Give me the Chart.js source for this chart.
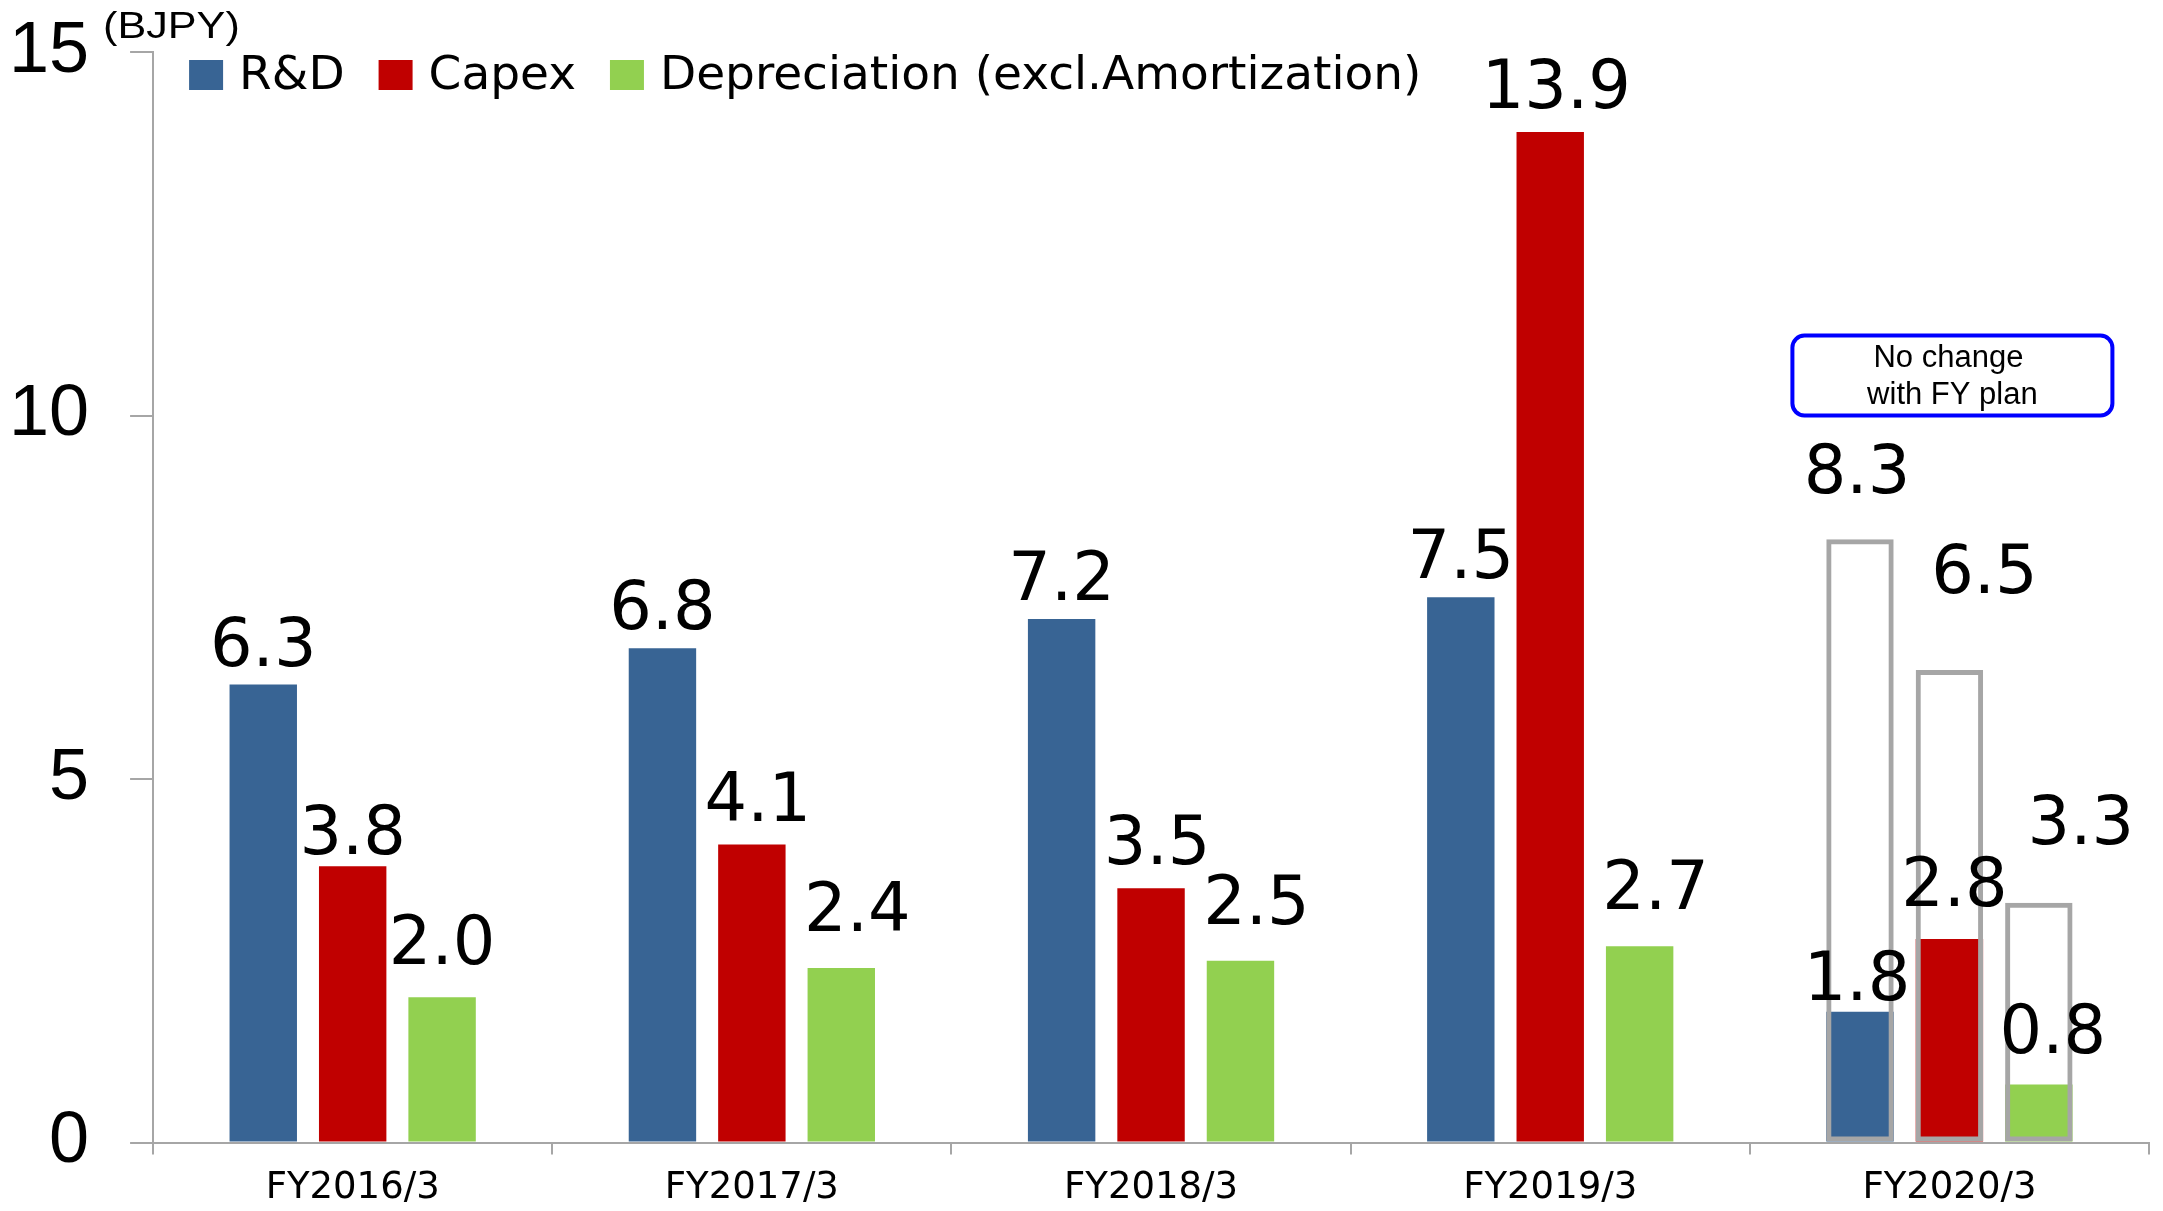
<!DOCTYPE html>
<html>
<head>
<meta charset="utf-8">
<title>R&D / Capex / Depreciation</title>
<script src="https://cdn.jsdelivr.net/npm/chart.js@4.4.1/dist/chart.umd.min.js"></script>
<style>
  html, body { margin: 0; padding: 0; background: #fff; }
  canvas { display: block; }
</style>
</head>
<body>
<canvas id="barChart" width="2163" height="1211"></canvas>
<script>
// Fiscal years on the x axis
const categories = ["FY2016/3", "FY2017/3", "FY2018/3", "FY2019/3", "FY2020/3"];

// Actual values (BJPY)
const rdActual = [6.3, 6.8, 7.2, 7.5, 1.8];
const capexActual = [3.8, 4.1, 3.5, 13.9, 2.8];
const depActual = [2.0, 2.4, 2.5, 2.7, 0.8];

// FY plan (only the last year)
const rdPlan = [null, null, null, null, 8.3];
const capexPlan = [null, null, null, null, 6.5];
const depPlan = [null, null, null, null, 3.3];

const seriesNames = ["R&D", "Capex", "Depreciation (excl.Amortization)"];
const yTicks = [0, 5, 10, 15];
const unitText = "(BJPY)";
const noteLines = ["No change", "with FY plan"];

const BLUE = "#386494";
const RED = "#C00000";
const GREEN = "#92D050";
const GREY = "#A6A6A6";

const CAT_PCT = 0.672;
const BAR_PCT = 0.754;

// label offsets: [dx, gap above bar] per dataset, and for the last category
const labelOffsets = [
  { dx: 0, gap: 19, last: [-3, 12] },
  { dx: 6, gap: 24, last: [5, 33] },
  { dx: 16, gap: 37, last: [14, 31] },
  { dx: 0, gap: 19, last: [-3, 46] },
  { dx: 0, gap: 19, last: [35, 77] },
  { dx: 0, gap: 19, last: [42, 59] },
];
// a few labels sit elsewhere ("dataset:index" -> [dx, gap])
const labelTweaks = { "1:0": [0, 12], "2:0": [0, 33] };

const valueLabels = {
  id: "valueLabels",
  afterDatasetsDraw(chart) {
    const ctx = chart.ctx;
    ctx.save();
    ctx.font = "67px 'DejaVu Sans'";
    ctx.fillStyle = "#000";
    ctx.textAlign = "center";
    ctx.textBaseline = "alphabetic";
    chart.data.datasets.forEach((ds, di) => {
      const meta = chart.getDatasetMeta(di);
      const off = labelOffsets[di];
      meta.data.forEach((bar, i) => {
        const v = ds.data[i];
        if (v === null || v === undefined) return;
        let dx = off.dx, gap = off.gap;
        if (i === categories.length - 1) { dx = off.last[0]; gap = off.last[1]; }
        const tw = labelTweaks[di + ":" + i];
        if (tw) { dx = tw[0]; gap = tw[1]; }
        ctx.fillText(v.toFixed(1), bar.x + dx, bar.y - gap);
      });
    });
    ctx.restore();
  },
};

const extras = {
  id: "extras",
  afterDraw(chart) {
    const ctx = chart.ctx;
    const area = chart.chartArea;
    const x = chart.scales.x;
    const y = chart.scales.y;

    // unit text
    ctx.save();
    ctx.translate(103, 38);
    ctx.scale(1.2, 1);
    ctx.font = "36px 'Liberation Sans'";
    ctx.fillStyle = "#000";
    ctx.textAlign = "left";
    ctx.textBaseline = "alphabetic";
    ctx.fillText(unitText, 0, 0);
    ctx.restore();

    // legend
    ctx.save();
    ctx.font = "47px 'DejaVu Sans'";
    ctx.textBaseline = "alphabetic";
    ctx.textAlign = "left";
    let lx = area.left + 36;
    const colors = [BLUE, RED, GREEN];
    seriesNames.forEach((name, k) => {
      ctx.fillStyle = colors[k];
      ctx.fillRect(lx, 60, 34, 30);
      ctx.fillStyle = "#000";
      ctx.fillText(name, lx + 50, 89);
      lx += 50 + ctx.measureText(name).width + 34;
    });
    ctx.restore();

    // note box over the last year
    const cx = x.getPixelForValue(categories.length - 1) + 3;
    const top = y.getPixelForValue(11.1);
    const bottom = y.getPixelForValue(10.0);
    const w = 320;
    ctx.save();
    ctx.strokeStyle = "#0000FF";
    ctx.lineWidth = 4;
    ctx.beginPath();
    ctx.roundRect(cx - w / 2, top, w, bottom - top, 12);
    ctx.stroke();
    ctx.font = "31px 'Liberation Sans'";
    ctx.fillStyle = "#000";
    ctx.textAlign = "center";
    ctx.textBaseline = "alphabetic";
    ctx.fillText(noteLines[0], cx - 4, top + 31);
    ctx.fillText(noteLines[1], cx, top + 68);
    ctx.restore();
  },
};

const barCommon = {
  categoryPercentage: CAT_PCT,
  barPercentage: BAR_PCT,
  borderWidth: 0,
  order: 1,
};

const planCommon = {
  categoryPercentage: CAT_PCT,
  barPercentage: BAR_PCT,
  backgroundColor: "rgba(255,255,255,0)",
  borderColor: GREY,
  borderWidth: 5,
  borderSkipped: false,
  order: 0,
};

const dataBar = {
  labels: categories,
  datasets: [
    { label: seriesNames[0], data: rdActual, backgroundColor: BLUE, stack: "rd", ...barCommon },
    { label: seriesNames[1], data: capexActual, backgroundColor: RED, stack: "capex", ...barCommon },
    { label: seriesNames[2], data: depActual, backgroundColor: GREEN, stack: "dep", ...barCommon },
    { label: seriesNames[0] + " plan", data: rdPlan, stack: "rd", ...planCommon },
    { label: seriesNames[1] + " plan", data: capexPlan, stack: "capex", ...planCommon },
    { label: seriesNames[2] + " plan", data: depPlan, stack: "dep", ...planCommon },
  ],
};

const configBar = {
  type: "bar",
  data: dataBar,
  options: {
    responsive: false,
    animation: false,
    layout: { padding: { left: -32, right: 14, top: 52, bottom: -12 } },
    plugins: {
      legend: { display: false },
      tooltip: { enabled: false },
    },
    scales: {
      x: {
        offset: true,
        grid: {
          offset: true,
          drawOnChartArea: false,
          drawTicks: true,
          tickLength: 12,
          color: GREY,
          lineWidth: 2,
        },
        border: { color: GREY, width: 2 },
        ticks: {
          font: { family: "'DejaVu Sans'", size: 37 },
          color: "#000",
          padding: 12,
        },
      },
      y: {
        min: 0,
        max: 15,
        stacked: false,
        afterBuildTicks(scale) {
          scale.ticks = yTicks.map((v) => ({ value: v }));
        },
        afterFit(scale) {
          // tick labels may stick out above/below the plot area
          scale.paddingTop = 0;
          scale.paddingBottom = 0;
        },
        grid: {
          drawOnChartArea: false,
          drawTicks: true,
          tickLength: 23,
          color: GREY,
          lineWidth: 2,
        },
        border: { color: GREY, width: 2 },
        ticks: {
          font: { family: "'Liberation Sans'", size: 72 },
          color: "#000",
          padding: 41,
        },
      },
    },
  },
  plugins: [valueLabels, extras],
};

new Chart(document.getElementById("barChart").getContext("2d"), configBar);
</script>
</body>
</html>
